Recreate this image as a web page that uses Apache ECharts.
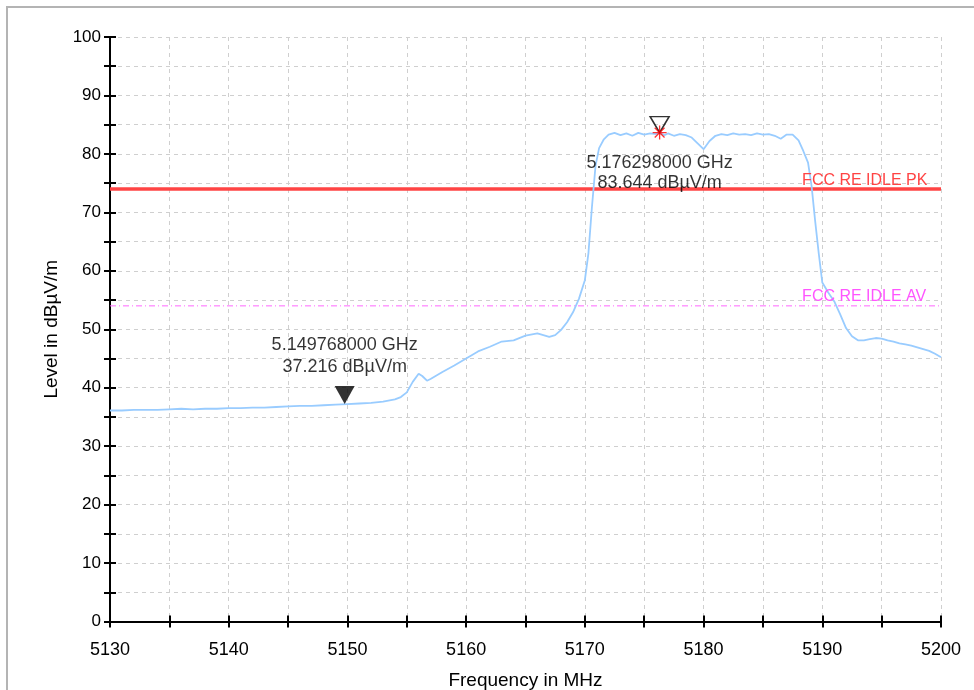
<!DOCTYPE html>
<html>
<head>
<meta charset="utf-8">
<script src="https://cdn.jsdelivr.net/npm/echarts@6/dist/echarts.min.js"></script>
<style>
  html, body { margin: 0; padding: 0; background: #fff; }
  #chart { width: 974px; height: 690px; }
</style>
</head>
<body>
<div id="chart"></div>
<script>
// 频率 (MHz) / 电平 (dBµV/m) 读自原图
var freq = [5130, 5131, 5132, 5133, 5134, 5135, 5136, 5137, 5138, 5139, 5140, 5141, 5142, 5143, 5144, 5145, 5146, 5147, 5148, 5149,
  5150, 5151, 5152, 5153, 5154, 5154.5, 5155, 5155.5, 5156, 5156.3, 5156.7, 5157, 5158, 5159, 5160, 5161, 5162, 5163, 5164, 5165,
  5166, 5166.5, 5167, 5167.5, 5168, 5168.5, 5169, 5169.5, 5170, 5170.3, 5170.6, 5170.9, 5171.2, 5171.6, 5172, 5172.5, 5173, 5173.5,
  5174, 5174.5, 5175, 5175.5, 5176, 5176.298, 5176.7, 5177, 5177.5, 5178, 5178.5, 5179, 5179.5, 5180, 5180.5, 5181, 5181.5, 5182,
  5182.5, 5183, 5183.5, 5184, 5184.5, 5185, 5185.5, 5186, 5186.5, 5187, 5187.5, 5188, 5188.4, 5188.8, 5189.1, 5189.4, 5189.7, 5190,
  5190.5, 5191, 5191.5, 5192, 5192.5, 5193, 5193.5, 5194, 5194.5, 5195, 5195.5, 5196, 5196.5, 5197, 5197.5, 5198, 5198.5, 5199,
  5199.5, 5200];
var level = [36.1, 36.1, 36.2, 36.2, 36.2, 36.3, 36.4, 36.3, 36.4, 36.4, 36.5, 36.5, 36.6, 36.6, 36.7, 36.8, 36.9, 36.9, 37.0, 37.1,
  37.2, 37.3, 37.4, 37.6, 38.0, 38.4, 39.2, 41.0, 42.4, 42.0, 41.2, 41.5, 42.7, 43.8, 45.0, 46.2, 47.0, 47.9, 48.1, 48.9,
  49.3, 49.0, 48.7, 49.0, 49.9, 51.2, 52.9, 55.2, 58.4, 63.0, 71.0, 78.0, 81.0, 82.5, 83.3, 83.6, 83.2, 83.5,
  83.1, 83.6, 83.3, 83.5, 83.4, 83.644, 83.2, 83.5, 83.1, 83.4, 83.2, 82.8, 81.8, 80.8, 82.2, 83.1, 83.4, 83.2,
  83.5, 83.3, 83.4, 83.2, 83.5, 83.3, 83.4, 83.1, 82.6, 83.3, 83.3, 82.3, 80.5, 78.5, 74.5, 68.5, 63.0, 58.0,
  56.3, 54.8, 52.6, 50.2, 48.8, 48.1, 48.1, 48.3, 48.5, 48.4, 48.1, 47.9, 47.6, 47.4, 47.2, 46.9, 46.6, 46.3,
  45.8, 45.2];

// 限值线
var limitPK = 74;
var limitAV = 54;
var limitLabelAt = 5188.3;  // 限值文字起点 (MHz)
// 标记点
var marker1 = [5149.768, 37.216];
var marker2 = [5176.298, 83.644];

var trace = freq.map(function (f, i) { return [f, level[i]]; });

var font = 'Liberation Sans, Arial, sans-serif';
var myChart = echarts.init(document.getElementById('chart'));

function tickLabel(v) { return v % 10 === 0 ? String(v) : ''; }
function markerText(p) {
  return (p.value[0] / 1000).toFixed(9) + ' GHz\n' + p.value[1].toFixed(3) + ' dBµV/m';
}

var option = {
  backgroundColor: '#fff',
  animation: false,
  textStyle: { fontFamily: font },
  grid: { left: 110, right: 33, top: 37, bottom: 68.5, outerBoundsMode: 'none', containLabel: false },
  graphic: [{
    type: 'rect', z: -1, silent: true,
    shape: { x: 7, y: 7, width: 1000, height: 1000 },
    style: { fill: 'none', stroke: '#b4b4b4', lineWidth: 2 }
  }],
  xAxis: [{
    type: 'value', min: 5130, max: 5200, interval: 5,
    name: 'Frequency in MHz', nameLocation: 'middle', nameGap: 50,
    nameTextStyle: { color: '#000', fontSize: 19, fontFamily: font },
    axisLine: { onZero: false, lineStyle: { color: '#000', width: 2 } },
    axisTick: { length: 6, lineStyle: { color: '#000', width: 2 } },
    axisLabel: { color: '#000', fontSize: 18, margin: 20, formatter: tickLabel },
    splitLine: { lineStyle: { color: '#cfcfcf', type: [4, 4], width: 1 } }
  }, {
    type: 'value', min: 5130, max: 5200, interval: 5, position: 'bottom',
    axisLine: { show: false },
    axisTick: { inside: true, length: 6, lineStyle: { color: '#000', width: 2 } },
    axisLabel: { show: false }, splitLine: { show: false }
  }],
  yAxis: [{
    type: 'value', min: 0, max: 100, interval: 5,
    name: 'Level in dBµV/m', nameLocation: 'middle', nameGap: 33,
    nameTextStyle: { color: '#000', fontSize: 19, fontFamily: font },
    axisLine: { onZero: false, lineStyle: { color: '#000', width: 2 } },
    axisTick: { length: 6, lineStyle: { color: '#000', width: 2 } },
    axisLabel: { color: '#000', fontSize: 17, margin: 9, formatter: tickLabel },
    splitLine: { lineStyle: { color: '#cfcfcf', type: [4, 4], width: 1 } }
  }, {
    type: 'value', min: 0, max: 100, interval: 5, position: 'left',
    axisLine: { show: false },
    axisTick: { inside: true, length: 6, lineStyle: { color: '#000', width: 2 } },
    axisLabel: { show: false }, splitLine: { show: false }
  }],
  series: [
    {
      name: 'FCC RE IDLE PK', type: 'line', symbol: 'none', z: 2,
      data: [[5130, limitPK], [5200, limitPK]],
      lineStyle: { color: '#ff4444', width: 3.5 },
      markPoint: {
        symbol: 'circle', symbolSize: 1, itemStyle: { color: 'rgba(0,0,0,0)' },
        data: [{ coord: [limitLabelAt, limitPK] }],
        label: { show: true, formatter: 'FCC RE IDLE PK', color: '#ff4444', fontSize: 16, position: 'top', align: 'left', distance: 0, fontFamily: font }
      }
    },
    {
      name: 'FCC RE IDLE AV', type: 'line', symbol: 'none', z: 2,
      data: [[5130, limitAV], [5200, limitAV]],
      lineStyle: { color: '#ff66ff', width: 1, type: [6, 3, 1, 3] },
      markPoint: {
        symbol: 'circle', symbolSize: 1, itemStyle: { color: 'rgba(0,0,0,0)' },
        data: [{ coord: [limitLabelAt, limitAV] }],
        label: { show: true, formatter: 'FCC RE IDLE AV', color: '#ff55ff', fontSize: 16, position: 'top', align: 'left', distance: 1, fontFamily: font }
      }
    },
    {
      name: 'Level', type: 'line', symbol: 'none', z: 3,
      data: trace,
      lineStyle: { color: '#99ccff', width: 1.8 }
    },
    {
      // 标记1 实心三角
      type: 'scatter', z: 5, symbol: 'triangle', symbolRotate: 180,
      symbolSize: [20, 18], symbolOffset: [0, -9],
      itemStyle: { color: '#000' },
      data: [marker1],
      label: {
        show: true, position: 'top', distance: 8, color: '#000', fontSize: 18, lineHeight: 22, align: 'center',
        formatter: markerText
      }
    },
    {
      // 标记2 空心三角
      type: 'scatter', z: 5, symbol: 'triangle', symbolRotate: 180,
      symbolSize: [19, 16], symbolOffset: [0, -8],
      itemStyle: { color: 'rgba(255,255,255,0)', borderColor: '#000', borderWidth: 1.5 },
      data: [marker2]
    },
    {
      // 红色星号
      type: 'scatter', z: 6,
      symbol: 'path://M0,-6L0,6M-6,0L6,0M-4.2,-4.2L4.2,4.2M-4.2,4.2L4.2,-4.2', symbolSize: 14,
      itemStyle: { color: 'none', borderColor: '#ff0000', borderWidth: 1.3 },
      data: [marker2],
      label: {
        show: true, position: 'bottom', distance: 11, color: '#000', fontSize: 18, lineHeight: 20, align: 'center',
        formatter: markerText
      }
    }
  ]
};

myChart.setOption(option);
</script>
</body>
</html>
